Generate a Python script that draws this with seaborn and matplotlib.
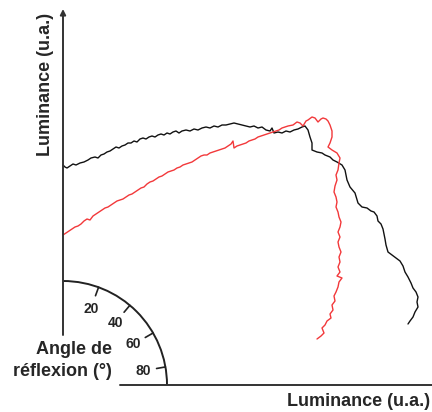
import matplotlib
matplotlib.use("Agg")

import numpy as np
import pandas as pd
import matplotlib.pyplot as plt
from matplotlib.patches import Arc
import seaborn as sns

# black curve (luminance x / luminance y)
black_x = [0, 2, 4, 7, 10, 13, 17, 21, 25, 28, 32, 35, 38, 41, 44, 47, 50, 53, 56, 59,
           62, 65, 68, 71, 74, 77, 80, 83, 86, 89, 92, 95, 98, 101, 104, 107, 110, 113,
           116, 119, 123, 127, 131, 135, 139, 143, 147, 151, 155, 159, 163, 167, 171,
           175, 179, 183, 187, 191, 195, 199, 203, 207, 209, 211, 215, 219, 223, 227,
           231, 235, 239, 242, 245, 247, 249, 249, 254, 259, 262, 267, 270, 274, 279,
           282, 284, 287, 292, 295, 299, 304, 308, 311, 314, 315, 318, 320, 321, 322,
           323, 325, 329, 333, 337, 340, 342, 345, 348, 350, 353, 355, 354, 355, 352,
           350, 347, 345]
black_y = [220, 218, 217, 219, 221, 220, 222, 223, 225, 227, 228, 227, 230, 231, 233,
           234, 236, 238, 237, 239, 240, 242, 242, 244, 243, 246, 247, 246, 248, 249,
           248, 250, 251, 250, 252, 251, 253, 254, 252, 254, 255, 254, 256, 255, 257,
           258, 257, 259, 258, 260, 260, 261, 262, 261, 260, 259, 258, 259, 257, 258,
           255, 254, 257, 252, 253, 252, 254, 253, 255, 256, 258, 259, 255, 248, 242,
           235, 233, 232, 230, 228, 225, 223, 220, 215, 205, 198, 192, 182, 178, 177,
           174, 173, 169, 164, 161, 156, 151, 146, 140, 133, 130, 127, 124, 119, 113,
           108, 102, 97, 93, 88, 83, 78, 73, 68, 64, 61]

# red curve
red_x = [0, 3, 6, 9, 12, 15, 18, 21, 24, 27, 30, 33, 36, 39, 42, 45, 48, 51, 54, 57,
         60, 63, 66, 69, 72, 75, 78, 81, 84, 87, 90, 93, 96, 99, 102, 105, 108, 111,
         114, 117, 120, 123, 126, 129, 132, 135, 138, 141, 144, 147, 150, 153, 156,
         159, 162, 165, 168, 170, 171, 174, 177, 180, 183, 186, 189, 192, 195, 198,
         201, 204, 207, 210, 213, 216, 219, 222, 225, 230, 234, 237, 240, 243, 245,
         249, 252, 255, 258, 260, 263, 265, 267, 269, 269, 267, 265, 269, 274, 277,
         276, 275, 273, 274, 272, 271, 273, 274, 273, 275, 276, 278, 277, 275, 277,
         275, 276, 278, 276, 277, 275, 277, 274, 279, 276, 275, 273, 271, 272, 269,
         270, 267, 268, 264, 262, 259, 261, 258, 254]
red_y = [150, 152, 154, 156, 158, 159, 161, 164, 166, 165, 169, 171, 173, 175, 177,
         178, 180, 182, 184, 185, 186, 188, 190, 191, 193, 195, 197, 198, 201, 203,
         204, 206, 208, 209, 211, 213, 214, 215, 217, 218, 220, 221, 222, 223, 225,
         227, 229, 230, 230, 232, 233, 234, 235, 236, 237, 239, 241, 244, 237, 239,
         240, 241, 242, 244, 245, 246, 248, 249, 250, 251, 252, 253, 254, 255, 257,
         258, 259, 260, 263, 262, 259, 264, 265, 268, 267, 263, 266, 267, 266, 264,
         260, 254, 248, 242, 238, 235, 232, 227, 222, 215, 210, 205, 199, 193, 188,
         183, 178, 173, 168, 163, 158, 153, 148, 143, 138, 133, 128, 123, 118, 113,
         109, 107, 103, 98, 93, 89, 84, 80, 75, 71, 67, 64, 60, 57, 52, 49, 46]

angle_ticks = [20, 40, 60, 80]

df_black = pd.DataFrame({"x": black_x, "y": black_y})
df_red = pd.DataFrame({"x": red_x, "y": red_y})

sns.set_style("white")
plt.rcParams["font.family"] = ["Liberation Sans", "DejaVu Sans"]

fig = plt.figure(figsize=(4.32, 4.12), dpi=100)
ax = fig.add_axes([0, 0, 1, 1])

sns.lineplot(data=df_black, x="x", y="y", sort=False, estimator=None,
             color="#111111", linewidth=1.0, ax=ax)
sns.lineplot(data=df_red, x="x", y="y", sort=False, estimator=None,
             color="#f2383a", linewidth=1.0, ax=ax)

# axes
ax.annotate("", xy=(0, 376), xytext=(0, 50),
            arrowprops=dict(arrowstyle="-|>", color="#333333", lw=1.4,
                            mutation_scale=8, shrinkA=0, shrinkB=0))
ax.plot([57, 369], [0, 0], color="#333333", lw=1.4)

# protractor
R = 104
ax.add_patch(Arc((0, 0), 2 * R, 2 * R, theta1=0, theta2=90,
                 color="#222222", lw=1.4))
for a in angle_ticks:
    t = np.deg2rad(90 - a)
    ax.plot([R * np.cos(t), (R - 9) * np.cos(t)],
            [R * np.sin(t), (R - 9) * np.sin(t)], color="#222222", lw=1.2)
    ax.text(81 * np.cos(t), 81 * np.sin(t), str(a), fontsize=10,
            fontweight="bold", ha="center", va="center")

ax.text(49, 36, "Angle de", fontsize=13, fontweight="bold",
        ha="right", va="center")
ax.text(49, 13, "réflexion (°)", fontsize=13, fontweight="bold",
        ha="right", va="center")

ax.text(-17, 301, "Luminance (u.a.)", fontsize=13, fontweight="bold",
        rotation=90, ha="center", va="center")
ax.text(296, -17, "Luminance (u.a.)", fontsize=13, fontweight="bold",
        ha="center", va="center")

ax.set_xlim(-63, 369)
ax.set_ylim(-27, 385)
ax.set_axis_off()

plt.savefig("out.png", dpi=100)
plt.close()
